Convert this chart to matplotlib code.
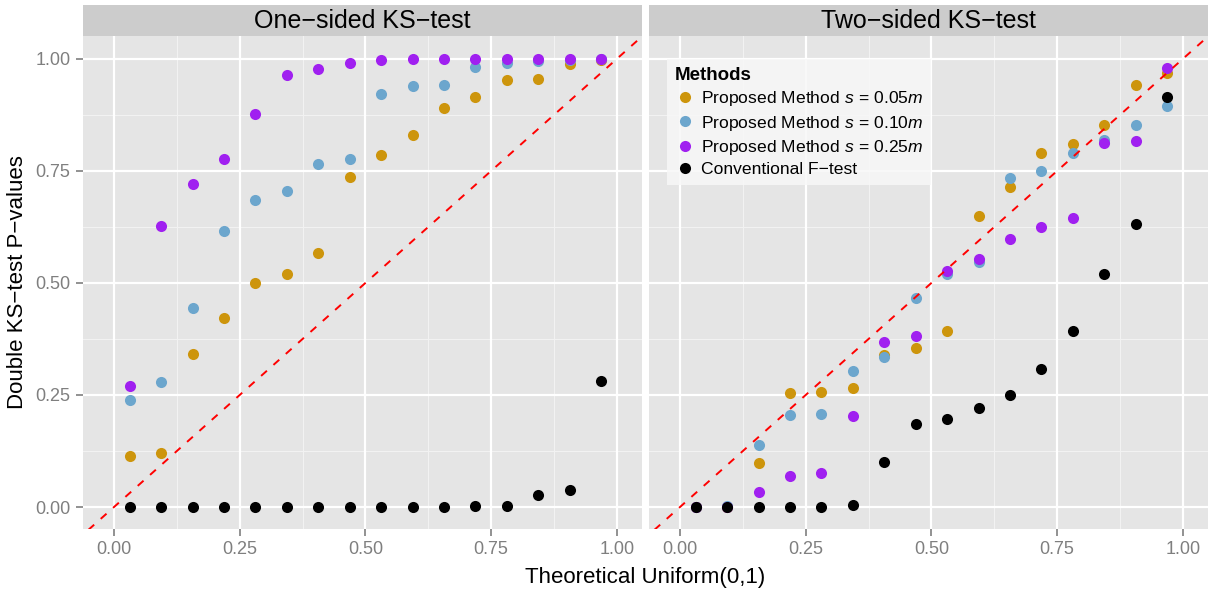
import numpy as np
import matplotlib
matplotlib.use("Agg")
import matplotlib.pyplot as plt
from matplotlib.lines import Line2D

plt.rcParams['font.family'] = ['Liberation Sans', 'DejaVu Sans']
plt.rcParams['mathtext.fontset'] = 'custom'
plt.rcParams['mathtext.rm'] = 'Liberation Sans'
plt.rcParams['mathtext.it'] = 'Liberation Sans:italic'

# theoretical uniform quantiles (16 points)
theoretical = [0.03125, 0.09375, 0.15625, 0.21875, 0.28125, 0.34375, 0.40625, 0.46875,
               0.53125, 0.59375, 0.65625, 0.71875, 0.78125, 0.84375, 0.90625, 0.96875]

# one-sided KS-test p-values
one_s005 = [0.113, 0.120, 0.341, 0.421, 0.501, 0.520, 0.567, 0.736,
            0.786, 0.830, 0.890, 0.915, 0.953, 0.955, 0.989, 0.998]
one_s010 = [0.238, 0.278, 0.444, 0.616, 0.685, 0.705, 0.765, 0.777,
            0.922, 0.940, 0.942, 0.982, 0.991, 0.996, 0.998, 1.000]
one_s025 = [0.270, 0.627, 0.721, 0.777, 0.877, 0.965, 0.978, 0.991,
            0.998, 1.000, 1.000, 1.000, 1.000, 1.000, 1.000, 1.000]
one_ftest = [0.000, 0.000, 0.000, 0.000, 0.000, 0.000, 0.000, 0.000,
             0.000, 0.000, 0.000, 0.0015, 0.002, 0.027, 0.037, 0.281]

# two-sided KS-test p-values
two_s005 = [0.000, 0.000, 0.098, 0.254, 0.256, 0.265, 0.339, 0.354,
            0.392, 0.649, 0.714, 0.790, 0.810, 0.853, 0.942, 0.969]
two_s010 = [0.000, 0.002, 0.138, 0.205, 0.207, 0.303, 0.334, 0.466,
            0.520, 0.547, 0.734, 0.750, 0.790, 0.819, 0.853, 0.894]
two_s025 = [0.000, 0.000, 0.033, 0.069, 0.075, 0.203, 0.368, 0.381,
            0.526, 0.553, 0.598, 0.625, 0.645, 0.812, 0.817, 0.980]
two_ftest = [0.000, 0.000, 0.000, 0.000, 0.000, 0.004, 0.100, 0.185,
             0.196, 0.220, 0.249, 0.308, 0.392, 0.520, 0.631, 0.915]

method_labels = [r"Proposed Method $s\,=\,0.05m$", r"Proposed Method $s\,=\,0.10m$",
                 r"Proposed Method $s\,=\,0.25m$", "Conventional F\u2212test"]
method_colors = ["#CD950C", "#6CA6CD", "#A020F0", "#000000"]
panel_titles = ["One\u2212sided KS\u2212test", "Two\u2212sided KS\u2212test"]

panels = [[one_s005, one_s010, one_s025, one_ftest],
          [two_s005, two_s010, two_s025, two_ftest]]

W, H = 1209, 589
fig = plt.figure(figsize=(W / 100, H / 100), dpi=100)


def px_axes(x0, y0, x1, y1):
    # pixel box (top-left origin) -> figure axes
    return fig.add_axes([x0 / W, 1 - y1 / H, (x1 - x0) / W, (y1 - y0) / H])


panel_boxes = [(83, 36, 642, 529), (649, 36, 1208, 529)]
ticks = [0, 0.25, 0.5, 0.75, 1.0]
minor = [0.125, 0.375, 0.625, 0.875]

axes = []
for i, (box, series, title) in enumerate(zip(panel_boxes, panels, panel_titles)):
    ax = px_axes(*box)
    ax.set_facecolor("#E5E5E5")
    ax.set_xlim(-0.0616, 1.05)
    ax.set_ylim(-0.049, 1.051)
    for v in minor:
        ax.axhline(v, color="#F2F2F2", lw=0.8, zorder=0)
        ax.axvline(v, color="#F2F2F2", lw=0.8, zorder=0)
    for v in ticks:
        ax.axhline(v, color="white", lw=1.6, zorder=0)
        ax.axvline(v, color="white", lw=1.6, zorder=0)
    for vals, col in zip(series, method_colors):
        ax.scatter(theoretical, vals, s=64, color=col, linewidths=0, zorder=3)
    ax.plot([-0.1, 1.1], [-0.1, 1.1], color="red", lw=1.4, ls=(0, (4, 4.5)), zorder=4)
    for sp in ax.spines.values():
        sp.set_visible(False)
    ax.set_xticks(ticks)
    ax.set_xticklabels(["%.2f" % t for t in ticks])
    ax.set_yticks(ticks)
    if i == 0:
        ax.set_yticklabels(["%.2f" % t for t in ticks])
    else:
        ax.tick_params(axis="y", left=False, labelleft=False)
    ax.tick_params(colors="#7F7F7F", labelcolor="#7F7F7F", labelsize=13,
                   length=5, width=1.2, pad=4)
    axes.append(ax)

    # facet strip
    sx = px_axes(box[0], 5, box[2], 36)
    sx.set_facecolor("#CCCCCC")
    sx.set_xticks([])
    sx.set_yticks([])
    for sp in sx.spines.values():
        sp.set_visible(False)
    sx.text(0.5, 0.47, title, ha="center", va="center", fontsize=18,
            transform=sx.transAxes)

handles = [Line2D([], [], marker="o", ls="none", markersize=8, color=c, markeredgewidth=0)
           for c in method_colors]
leg = axes[1].legend(handles, method_labels, title="Methods", loc="upper left",
                     bbox_to_anchor=(0.032, 0.953), fontsize=12.6, frameon=True,
                     fancybox=False, framealpha=0.85, handletextpad=0.3,
                     labelspacing=0.3, borderpad=0.45, handlelength=1.2,
                     borderaxespad=0)
leg.get_frame().set_facecolor("#F7F7F7")
leg.get_frame().set_edgecolor("none")
leg.get_title().set_fontweight("bold")
leg.get_title().set_fontsize(13.5)
leg._legend_box.align = "left"

fig.text((83 + 1208) / 2 / W, 1 - 577 / H, "Theoretical Uniform(0,1)",
         ha="center", va="center", fontsize=16)
fig.text(18 / W, 1 - 282 / H, "Double KS\u2212test P\u2212values", ha="center",
         va="center", rotation=90, fontsize=16)

fig.savefig("out.png", dpi=100)
